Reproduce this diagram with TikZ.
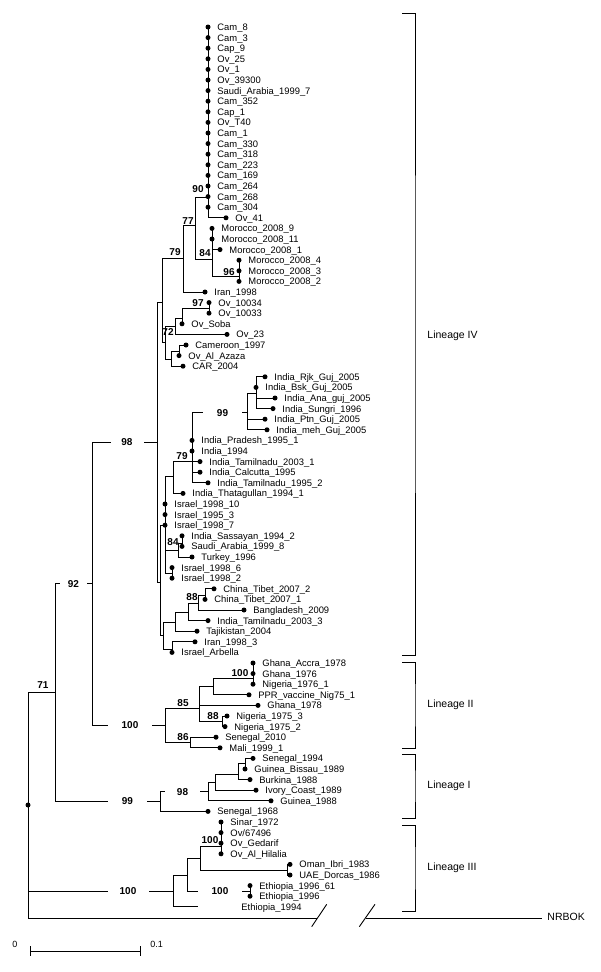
\documentclass[tikz,border=0pt]{standalone}
\usepackage{fontspec}
\setmainfont{Liberation Sans}
\newcommand{\lf}[4]{%
  \coordinate (#1) at (#2,{27+(#3-1)*10.6});
  \fill (#1) circle (2.5);
  \node[lab] (#1t) at ([xshift=9pt,yshift=-3.4pt]#1) {#4};}
\begin{document}
\begin{tikzpicture}[x=1pt,y=-1pt,line width=0.9pt,
  lab/.style={anchor=base west,inner sep=0pt,font=\fontsize{9.4}{10}\selectfont},
  bs/.style={inner sep=0pt,font=\fontsize{10}{11}\selectfont\bfseries},
  bsin/.style={fill=white,inner sep=0pt,minimum height=11pt,minimum width=#1,font=\fontsize{10}{11}\selectfont\bfseries},
  lin/.style={anchor=west,inner sep=0pt,font=\fontsize{10.5}{12}\selectfont}]
\useasboundingbox (0,0) rectangle (600,972);
% leaves
\lf{l1}{208}{1}{Cam\_8}
\lf{l2}{208}{2}{Cam\_3}
\lf{l3}{208}{3}{Cap\_9}
\lf{l4}{208}{4}{Ov\_25}
\lf{l5}{208}{5}{Ov\_1}
\lf{l6}{208}{6}{Ov\_39300}
\lf{l7}{208}{7}{Saudi\_Arabia\_1999\_7}
\lf{l8}{208}{8}{Cam\_352}
\lf{l9}{208}{9}{Cap\_1}
\lf{l10}{208}{10}{Ov\_T40}
\lf{l11}{208}{11}{Cam\_1}
\lf{l12}{208}{12}{Cam\_330}
\lf{l13}{208}{13}{Cam\_318}
\lf{l14}{208}{14}{Cam\_223}
\lf{l15}{208}{15}{Cam\_169}
\lf{l16}{208}{16}{Cam\_264}
\lf{l17}{208}{17}{Cam\_268}
\lf{l18}{208}{18}{Cam\_304}
\lf{l19}{226}{19}{Ov\_41}
\lf{l20}{212}{20}{Morocco\_2008\_9}
\lf{l21}{212}{21}{Morocco\_2008\_11}
\lf{l22}{220}{22}{Morocco\_2008\_1}
\lf{l23}{239}{23}{Morocco\_2008\_4}
\lf{l24}{239}{24}{Morocco\_2008\_3}
\lf{l25}{239}{25}{Morocco\_2008\_2}
\lf{l26}{205}{26}{Iran\_1998}
\lf{l27}{209}{27}{Ov\_10034}
\lf{l28}{209}{28}{Ov\_10033}
\lf{l29}{182}{29}{Ov\_Soba}
\lf{l30}{227}{30}{Ov\_23}
\lf{l31}{186}{31}{Cameroon\_1997}
\lf{l32}{179}{32}{Ov\_Al\_Azaza}
\lf{l33}{183}{33}{CAR\_2004}
\lf{l34}{265}{34}{India\_Rjk\_Guj\_2005}
\lf{l35}{256}{35}{India\_Bsk\_Guj\_2005}
\lf{l36}{275}{36}{India\_Ana\_guj\_2005}
\lf{l37}{273}{37}{India\_Sungri\_1996}
\lf{l38}{265}{38}{India\_Ptn\_Guj\_2005}
\lf{l39}{267}{39}{India\_meh\_Guj\_2005}
\lf{l40}{192}{40}{India\_Pradesh\_1995\_1}
\lf{l41}{192}{41}{India\_1994}
\lf{l42}{200}{42}{India\_Tamilnadu\_2003\_1}
\lf{l43}{200}{43}{India\_Calcutta\_1995}
\lf{l44}{208}{44}{India\_Tamilnadu\_1995\_2}
\lf{l45}{183}{45}{India\_Thatagullan\_1994\_1}
\lf{l46}{165}{46}{Israel\_1998\_10}
\lf{l47}{165}{47}{Israel\_1995\_3}
\lf{l48}{165}{48}{Israel\_1998\_7}
\lf{l49}{182}{49}{India\_Sassayan\_1994\_2}
\lf{l50}{182}{50}{Saudi\_Arabia\_1999\_8}
\lf{l51}{192}{51}{Turkey\_1996}
\lf{l52}{172}{52}{Israel\_1998\_6}
\lf{l53}{172}{53}{Israel\_1998\_2}
\lf{l54}{214}{54}{China\_Tibet\_2007\_2}
\lf{l55}{205}{55}{China\_Tibet\_2007\_1}
\lf{l56}{244}{56}{Bangladesh\_2009}
\lf{l57}{208}{57}{India\_Tamilnadu\_2003\_3}
\lf{l58}{197}{58}{Tajikistan\_2004}
\lf{l59}{195}{59}{Iran\_1998\_3}
\lf{l60}{172}{60}{Israel\_Arbella}
\lf{l61}{253}{61}{Ghana\_Accra\_1978}
\lf{l62}{253}{62}{Ghana\_1976}
\lf{l63}{253}{63}{Nigeria\_1976\_1}
\lf{l64}{249}{64}{PPR\_vaccine\_Nig75\_1}
\lf{l65}{258}{65}{Ghana\_1978}
\lf{l66}{227}{66}{Nigeria\_1975\_3}
\lf{l67}{225}{67}{Nigeria\_1975\_2}
\lf{l68}{216}{68}{Senegal\_2010}
\lf{l69}{220}{69}{Mali\_1999\_1}
\lf{l70}{253}{70}{Senegal\_1994}
\lf{l71}{245}{71}{Guinea\_Bissau\_1989}
\lf{l72}{250}{72}{Burkina\_1988}
\lf{l73}{256}{73}{Ivory\_Coast\_1989}
\lf{l74}{271}{74}{Guinea\_1988}
\lf{l75}{208}{75}{Senegal\_1968}
\lf{l76}{221}{76}{Sinar\_1972}
\lf{l77}{221}{77}{Ov/67496}
\lf{l78}{221}{78}{Ov\_Gedarif}
\lf{l79}{221}{79}{Ov\_Al\_Hilalia}
\lf{l80}{290}{80}{Oman\_Ibri\_1983}
\lf{l81}{290}{81}{UAE\_Dorcas\_1986}
\lf{l82}{250}{82}{Ethiopia\_1996\_61}
\lf{l83}{250}{83}{Ethiopia\_1996}
\coordinate (l84) at (198,906.8);
\node[lab] (l84t) at (241,910.2) {Ethiopia\_1994};
% internal nodes
\coordinate (n90) at (208,197);
\coordinate (n96) at (239,276);
\coordinate (n84a) at (212,259.3);
\coordinate (n77) at (195,225);
\coordinate (n79a) at (183,258);
\coordinate (n97) at (209,308);
\coordinate (nR) at (182,318);
\coordinate (nQ) at (175,326);
\coordinate (nT) at (179,351);
\coordinate (nS) at (171,359);
\coordinate (n72) at (165,342.5);
\coordinate (nP) at (162,302);
\coordinate (nI1) at (256,393);
\coordinate (n99a) at (247,412.7);
\coordinate (n79b) at (192,461.7);
\coordinate (nI2) at (173,476.7);
\coordinate (nI4) at (182,543);
\coordinate (n84b) at (178,550.7);
\coordinate (nI3) at (172,573);
\coordinate (nU) at (165,525);
\coordinate (n88) at (205,595.7);
\coordinate (nX4) at (198,603);
\coordinate (nX3) at (188,612);
\coordinate (nX1) at (175,622);
\coordinate (nX2) at (172,649);
\coordinate (nW) at (163,635.5);
\coordinate (nV) at (160,582);
\coordinate (n98) at (157,442);
\coordinate (n100c) at (253,678.3);
\coordinate (nA2) at (213,686.7);
\coordinate (n88b) at (222,721);
\coordinate (nA1) at (199,708.3);
\coordinate (n86) at (190,742.5);
\coordinate (n100b) at (165,725.4);
\coordinate (n92) at (92,583.7);
\coordinate (nG2) at (245,763.3);
\coordinate (nG1) at (238,774);
\coordinate (nG3) at (215,782.7);
\coordinate (n98b) at (208,791.7);
\coordinate (n99) at (160,801.5);
\coordinate (n71) at (55,692.6);
\coordinate (nL1) at (221,846);
\coordinate (nL2) at (287,870.7);
\coordinate (nL3) at (200,858.3);
\coordinate (nL4) at (250,891);
\coordinate (nL5) at (187,875);
\coordinate (n100d) at (173,891);
\coordinate (root) at (28,805);
\coordinate (brk1) at (317,918);
\coordinate (brk2) at (366,918);
\coordinate (nrb) at (542,918);
% edges
\foreach \p/\c in {n90/l1,n90/l2,n90/l3,n90/l4,n90/l5,n90/l6,n90/l7,n90/l8,n90/l9,n90/l10,n90/l11,n90/l12,n90/l13,n90/l14,n90/l15,n90/l16,n90/l17,n90/l18,n90/l19,
  n84a/l20,n84a/l21,n84a/l22,n84a/n96,n96/l23,n96/l24,n96/l25,n77/n90,n77/n84a,n79a/n77,n79a/l26,nP/n79a,nP/n72,
  n97/l27,n97/l28,nR/n97,nR/l29,nQ/nR,nQ/l30,nT/l31,nT/l32,nS/nT,nS/l33,n72/nQ,n72/nS,
  nI1/l34,nI1/l35,nI1/l36,nI1/l37,n99a/nI1,n99a/l38,n99a/l39,n79b/n99a,n79b/l40,n79b/l41,n79b/l42,n79b/l43,n79b/l44,
  nI2/n79b,nI2/l45,nI4/l49,nI4/l50,n84b/nI4,n84b/l51,nI3/l52,nI3/l53,nU/nI2,nU/l46,nU/l47,nU/l48,nU/n84b,nU/nI3,
  n88/l54,n88/l55,nX4/n88,nX4/l56,nX3/nX4,nX3/l57,nX1/nX3,nX1/l58,nX2/l59,nX2/l60,nW/nX1,nW/nX2,nV/nU,nV/nW,n98/nP,n98/nV,
  n100c/l61,n100c/l62,n100c/l63,nA2/n100c,nA2/l64,n88b/l66,n88b/l67,nA1/nA2,nA1/l65,nA1/n88b,n86/l68,n86/l69,n100b/nA1,n100b/n86,n92/n98,n92/n100b,
  nG2/l70,nG2/l71,nG1/nG2,nG1/l72,nG3/nG1,nG3/l73,n98b/nG3,n98b/l74,n99/n98b,n99/l75,n71/n92,n71/n99,
  nL1/l76,nL1/l77,nL1/l78,nL1/l79,nL2/l80,nL2/l81,nL3/nL1,nL3/nL2,nL4/l82,nL4/l83,nL5/nL3,nL5/nL4,n100d/nL5,n100d/l84,
  root/n71,root/n100d,root/brk1}
  {\draw (\p) |- (\c);}
\fill (root) circle (2.5);
\draw (brk2) -- (nrb);
\coordinate (s1a) at (311.7,926.7); \coordinate (s1b) at (326.7,904.3);
\coordinate (s2a) at (359.3,926.7); \coordinate (s2b) at (375,904.3);
\draw (s1a) -- (s1b);
\draw (s2a) -- (s2b);
\node[lin] (nrbt) at (547,917) {NRBOK};
% bootstrap values on branches
\node[bsin=33] (b98) at (127,442) {98};
\node[bsin=27] (b92) at (73.5,583.7) {92};
\node[bsin=44] (b100b) at (130,725.4) {100};
\node[bsin=39] (b99) at (127.5,801.5) {99};
\node[bsin=41] (b100d) at (128,891) {100};
\node[bsin=39] (b99a) at (222.5,412.7) {99};
\node[bsin=44] (b100e) at (220,891) {100};
\node[bsin=35] (b98b) at (182.5,791.7) {98};
% bootstrap values at nodes
\node[bs] (b90) at (198,189) {90};
\node[bs] (b77) at (188,221) {77};
\node[bs] (b79a) at (175,252) {79};
\node[bs] (b84a) at (205,253) {84};
\node[bs] (b96) at (229,272) {96};
\node[bs] (b97) at (198,303) {97};
\node[bs] (b72) at (168,332) {72};
\node[bs] (b79b) at (182,456) {79};
\node[bs] (b84b) at (173,542) {84};
\node[bs] (b88) at (192,597) {88};
\node[bs] (b100c) at (240,673) {100};
\node[bs] (b85) at (183,703) {85};
\node[bs] (b88b) at (213,716) {88};
\node[bs] (b86) at (183,737) {86};
\node[bs] (b100f) at (210,840) {100};
\node[bs] (b71) at (43,685) {71};
% lineage brackets
\coordinate (k4a) at (402,13); \coordinate (k4b) at (402,655);
\draw (k4a) -| (415,334) |- (k4b);
\node[lin] (t4) at (427,336) {Lineage IV};
\coordinate (k2a) at (402,662); \coordinate (k2b) at (402,748);
\draw (k2a) -| (415,705) |- (k2b);
\node[lin] (t2) at (427,705) {Lineage II};
\coordinate (k1a) at (402,754); \coordinate (k1b) at (402,818);
\draw (k1a) -| (415,786) |- (k1b);
\node[lin] (t1) at (427,786) {Lineage I};
\coordinate (k3a) at (402,825); \coordinate (k3b) at (402,911);
\draw (k3a) -| (415,868) |- (k3b);
\node[lin] (t3) at (427,868) {Lineage III};
% scale bar
\coordinate (sc0) at (30,951); \coordinate (sc1) at (140,951);
\draw (sc0) -- (sc1);
\draw ([yshift=5pt]sc0) -- ([yshift=-5pt]sc0);
\draw ([yshift=5pt]sc1) -- ([yshift=-5pt]sc1);
\node[lin] (sct0) at (12,944) {\fontsize{9}{10}\selectfont 0};
\node[lin] (sct1) at (150,944) {\fontsize{9}{10}\selectfont 0.1};
\end{tikzpicture}
\end{document}
